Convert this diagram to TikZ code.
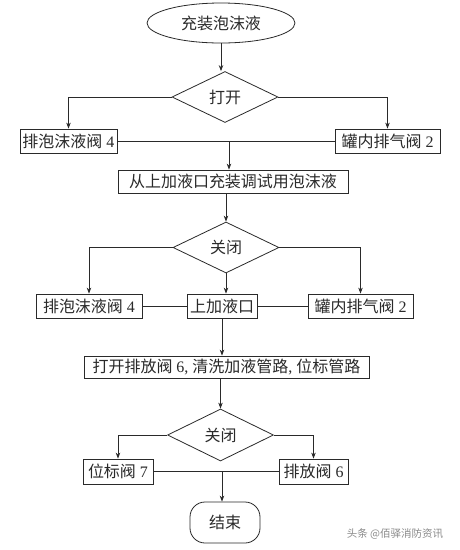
\documentclass[tikz,border=0pt]{standalone}
\usepackage{fontspec}
\setmainfont{Liberation Serif}
\newfontfamily\cjk{Noto Sans CJK SC}
\usetikzlibrary{shapes.geometric,arrows.meta}
\definecolor{ink}{HTML}{2A2A2A}
\definecolor{wm}{HTML}{8A8A8A}
\begin{document}
\begin{tikzpicture}[x=1pt,y=-1pt,
  every node/.style={text=ink, font=\fontsize{16}{18}\selectfont, inner sep=0pt},
  box/.style={draw=ink, line width=0.8pt, rectangle},
  dia/.style={draw=ink, line width=0.8pt, diamond, minimum width=106pt, minimum height=51pt},
  conn/.style={draw=ink, line width=0.8pt},
  arr/.style={conn, -{Stealth[length=6pt,width=4.5pt]}}]
\useasboundingbox[fill=white] (0,0) rectangle (459,550);

\node[draw=ink, line width=0.8pt, ellipse, minimum width=148pt, minimum height=40pt] (start) at (221,23) {\cjk 充装泡沫液};
\node[dia] (d1) at (225,97) {\cjk 打开};
\node[box, minimum width=97pt, minimum height=24pt] (b1L) at (68.5,141) {{\cjk 排泡沫液阀} 4};
\node[box, minimum width=105pt, minimum height=24pt] (b1R) at (387.5,141) {{\cjk 罐内排气阀} 2};
\node[box, minimum width=230pt, minimum height=23pt] (b2) at (233,181.5) {\cjk 从上加液口充装调试用泡沫液};
\node[dia] (d2) at (226,247.5) {\cjk 关闭};
\node[box, minimum width=106pt, minimum height=24pt] (b3L) at (89,306) {{\cjk 排泡沫液阀} 4};
\node[box, minimum width=70pt, minimum height=24pt] (b3C) at (222,306) {\cjk 上加液口};
\node[box, minimum width=105pt, minimum height=24pt] (b3R) at (360.5,306) {{\cjk 罐内排气阀} 2};
\node[box, minimum width=285pt, minimum height=22pt] (b4) at (226.5,367) {{\cjk 打开排放阀} 6, {\cjk 清洗加液管路}, {\cjk 位标管路}};
\node[dia, minimum height=52pt] (d3) at (220.5,435) {\cjk 关闭};
\node[box, minimum width=70pt, minimum height=25pt] (b5L) at (118,471.5) {{\cjk 位标阀} 7};
\node[box, minimum width=69pt, minimum height=25pt] (b5R) at (313.5,471.5) {{\cjk 排放阀} 6};
\node[box, rounded corners=15pt, minimum width=70pt, minimum height=41pt] (end) at (225,522.5) {\cjk 结束};
\node[text=wm, font=\fontsize{10.5}{12}\selectfont] (wmk) at (395,534) {\cjk 头条 @佰驿消防资讯};

\coordinate (m1) at (229,141);
\coordinate (m3) at (222,471.5);

\draw[arr] (start.south) -- (start.south |- d1.north);
\draw[arr] (d1.west) -| (b1L.north);
\draw[arr] (d1.east) -| (b1R.north);
\draw[conn] (b1L.east) -- (b1R.west);
\draw[arr] (m1) -- (m1 |- b2.north);
\draw[arr] (d2.north |- b2.south) -- (d2.north);
\draw[arr] (d2.west) -| (b3L.north);
\draw[arr] (d2.east) -| (b3R.north);
\draw[arr] (d2.south) -- (d2.south |- b3C.north);
\draw[conn] (b3L.east) -- (b3C.west);
\draw[conn] (b3C.east) -- (b3R.west);
\draw[arr] (b3C.south) -- (b3C.south |- b4.north);
\draw[arr] (d3.north |- b4.south) -- (d3.north);
\draw[arr] (d3.west) -| (b5L.north);
\draw[arr] (d3.east) -| (b5R.north);
\draw[conn] (b5L.east) -- (b5R.west);
\draw[arr] (m3) -- (m3 |- end.north);
\end{tikzpicture}
\end{document}
